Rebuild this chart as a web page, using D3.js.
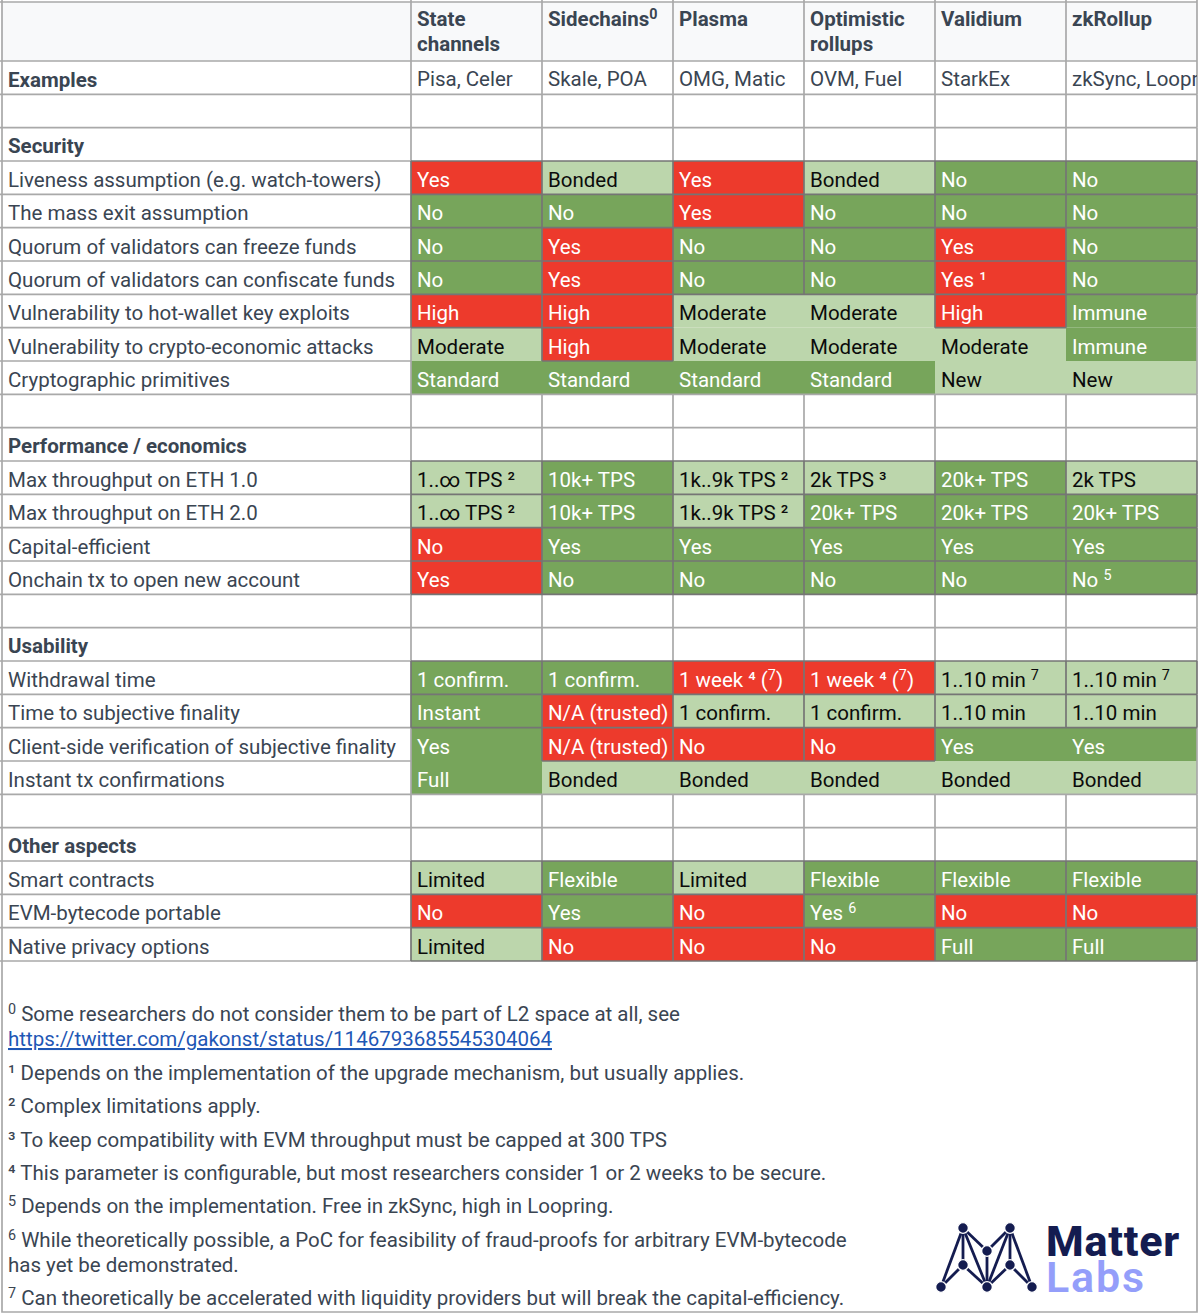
<!DOCTYPE html>
<html>
<head>
<meta charset="utf-8">
<script src="https://cdn.jsdelivr.net/npm/d3@7"></script>
<style>
  html, body { margin: 0; padding: 0; background: #fff; }
  svg { display: block; }
  text { font-family: Roboto, sans-serif; }
</style>
</head>
<body>
<svg id="chart" width="1200" height="1315"></svg>
<script>
// "^" marks a small raised digit
const columns = ["State channels", "Sidechains^0", "Plasma", "Optimistic rollups", "Validium", "zkRollup"];
const examples = ["Pisa, Celer", "Skale, POA", "OMG, Matic", "OVM, Fuel", "StarkEx", "zkSync, Loopring"];

const securityLabels = ["Liveness assumption (e.g. watch-towers)", "The mass exit assumption", "Quorum of validators can freeze funds", "Quorum of validators can confiscate funds", "Vulnerability to hot-wallet key exploits", "Vulnerability to crypto-economic attacks", "Cryptographic primitives"];
const securityValues = [
  ["Yes", "Bonded", "Yes", "Bonded", "No", "No"],
  ["No", "No", "Yes", "No", "No", "No"],
  ["No", "Yes", "No", "No", "Yes", "No"],
  ["No", "Yes", "No", "No", "Yes ¹", "No"],
  ["High", "High", "Moderate", "Moderate", "High", "Immune"],
  ["Moderate", "High", "Moderate", "Moderate", "Moderate", "Immune"],
  ["Standard", "Standard", "Standard", "Standard", "New", "New"]
];
const securityFills = ["rlrlgg", "ggrggg", "grggrg", "grggrg", "rrllrg", "lrlllg", "ggggll"];
const securityFlat = ["......", "......", "......", "......", "..xx.x", "x.xxxx", "xxxxxx"];

const performanceLabels = ["Max throughput on ETH 1.0", "Max throughput on ETH 2.0", "Capital-efficient", "Onchain tx to open new account"];
const performanceValues = [
  ["1..∞ TPS ²", "10k+ TPS", "1k..9k TPS ²", "2k TPS ³", "20k+ TPS", "2k TPS"],
  ["1..∞ TPS ²", "10k+ TPS", "1k..9k TPS ²", "20k+ TPS", "20k+ TPS", "20k+ TPS"],
  ["No", "Yes", "Yes", "Yes", "Yes", "Yes"],
  ["Yes", "No", "No", "No", "No", "No ^5"]
];
const performanceFills = ["lgllgl", "lglggg", "rggggg", "rggggg"];
const performanceFlat = ["......", "......", "......", "......"];

const usabilityLabels = ["Withdrawal time", "Time to subjective finality", "Client-side verification of subjective finality", "Instant tx confirmations"];
const usabilityValues = [
  ["1 confirm.", "1 confirm.", "1 week ⁴ (^7)", "1 week ⁴ (^7)", "1..10 min ^7", "1..10 min ^7"],
  ["Instant", "N/A (trusted)", "1 confirm.", "1 confirm.", "1..10 min", "1..10 min"],
  ["Yes", "N/A (trusted)", "No", "No", "Yes", "Yes"],
  ["Full", "Bonded", "Bonded", "Bonded", "Bonded", "Bonded"]
];
const usabilityFills = ["ggrrll", "grllll", "grrrgg", "glllll"];
const usabilityFlat = ["......", "......", "x...xx", "xxxxxx"];

const otherLabels = ["Smart contracts", "EVM-bytecode portable", "Native privacy options"];
const otherValues = [
  ["Limited", "Flexible", "Limited", "Flexible", "Flexible", "Flexible"],
  ["No", "Yes", "No", "Yes ^6", "No", "No"],
  ["Limited", "No", "No", "No", "Full", "Full"]
];
const otherFills = ["lglggg", "rgrgrr", "lrrrgg"];
const otherFlat = ["......", "......", "......"];

const footnotes = [
  "^0 Some researchers do not consider them to be part of L2 space at all, see",
  "https://twitter.com/gakonst/status/1146793685545304064",
  "¹ Depends on the implementation of the upgrade mechanism, but usually applies.",
  "² Complex limitations apply.",
  "³ To keep compatibility with EVM throughput must be capped at 300 TPS",
  "⁴ This parameter is configurable, but most researchers consider 1 or 2 weeks to be secure.",
  "^5 Depends on the implementation. Free in zkSync, high in Loopring.",
  "^6 While theoretically possible, a PoC for feasibility of fraud-proofs for arbitrary EVM-bytecode",
  "has yet be demonstrated.",
  "^7 Can theoretically be accelerated with liquidity providers but will break the capital-efficiency."
];
const footnoteBaselines = [1021, 1046, 1080, 1113, 1147, 1180, 1213, 1247, 1272, 1305];

const colours = { r: "#ed3a2c", g: "#77a55b", l: "#bcd6ac" };
const inkOn = { r: "#fff", g: "#fff", l: "#0b0b0b" };
const slate = "#3a4552";
const lineLight = "#a9a9a9";
const lineDark = "#757575";

// one row per line of the table, the header is kept apart
let rows = [];
function addBlank() { rows.push({ label: "", bold: false }); }
function addSection(title, labels, values, fills, flat) {
  rows.push({ label: title, bold: true });
  labels.forEach((l, i) => rows.push({ label: l, values: values[i], fills: fills[i], flat: flat[i] }));
}
rows.push({ label: "Examples", bold: true, values: examples });
addBlank();
addSection("Security", securityLabels, securityValues, securityFills, securityFlat);
addBlank();
addSection("Performance / economics", performanceLabels, performanceValues, performanceFills, performanceFlat);
addBlank();
addSection("Usability", usabilityLabels, usabilityValues, usabilityFills, usabilityFlat);
addBlank();
addSection("Other aspects", otherLabels, otherValues, otherFills, otherFlat);

const x = d3.scaleBand().domain(d3.range(columns.length)).range([411, 1197]);
const y = d3.scaleBand().domain(d3.range(rows.length)).range([61, 961]);

const svg = d3.select("#chart");
svg.append("defs").append("clipPath").attr("id", "table-clip")
   .append("rect").attr("x", 0).attr("y", 0).attr("width", 1197).attr("height", 961);

// writes a string into a text node, "^7" becomes a raised small 7
function writeRich(sel, str, size) {
  let back = 0;
  str.split(/(\^\d)/).filter(p => p !== "").forEach(part => {
    if (part[0] === "^") {
      sel.append("tspan").attr("dy", -size * 0.36).attr("font-size", size * 0.7).text(part[1]);
      back = size * 0.36;
    } else {
      sel.append("tspan").attr("dy", back || null).text(part);
      back = 0;
    }
  });
}

// header background
svg.append("rect").attr("x", 2).attr("y", 2).attr("width", 1195).attr("height", 59).attr("fill", "#f8f9fa");

// cell fills
let cells = [];
rows.forEach((r, ri) => {
  if (!r.fills) return;
  columns.forEach((c, ci) => cells.push({ ri: ri, ci: ci, fill: r.fills[ci], value: r.values[ci] }));
});
svg.append("g").selectAll("rect").data(cells).join("rect")
   .attr("x", d => x(d.ci))
   .attr("y", d => y(d.ri))
   .attr("width", x.bandwidth())
   .attr("height", y.bandwidth())
   .attr("fill", d => colours[d.fill]);

// grid lines: flat cells have no border between them, plain coloured cells get a darker one
function kind(ri, ci) {
  if (ri < 0 || ri >= rows.length || ci < 0 || ci >= columns.length) return "white";
  let r = rows[ri];
  if (!r.fills) return "white";
  return r.flat[ci] === "x" ? "flat" : "solid";
}
function edgeColour(a, b) {
  if (a === "flat" && b === "flat") return null;
  return (a === "solid" || b === "solid") ? lineDark : lineLight;
}
let edges = [];
// vertical ones, header included
d3.range(-1, columns.length).forEach(ci => {
  let xe = ci < 0 ? 411 : x(ci) + x.bandwidth();
  edges.push({ x1: xe, x2: xe, y1: 0, y2: 61, stroke: lineLight });
  rows.forEach((r, ri) => {
    let stroke = edgeColour(kind(ri, ci), kind(ri, ci + 1));
    if (stroke) edges.push({ x1: xe, x2: xe, y1: y(ri), y2: y(ri) + y.bandwidth(), stroke: stroke });
  });
});
// horizontal ones
d3.range(-1, columns.length).forEach(ci => {
  let x1 = ci < 0 ? 0 : x(ci);
  let x2 = ci < 0 ? 411 : x(ci) + x.bandwidth();
  edges.push({ x1: x1, x2: x2, y1: 2, y2: 2, stroke: lineLight });
  d3.range(-1, rows.length).forEach(ri => {
    let stroke = edgeColour(kind(ri, ci), kind(ri + 1, ci));
    let ye = ri < 0 ? 61 : y(ri) + y.bandwidth();
    if (stroke) edges.push({ x1: x1, x2: x2, y1: ye, y2: ye, stroke: stroke });
  });
});
edges.sort((a, b) => d3.ascending(a.stroke === lineDark, b.stroke === lineDark));
svg.append("g").selectAll("line").data(edges).join("line")
   .attr("x1", d => d.x1).attr("x2", d => d.x2)
   .attr("y1", d => d.y1).attr("y2", d => d.y2)
   .attr("stroke", d => d.stroke)
   .attr("stroke-width", 1.7);

// outer frame of the notes part
svg.append("path")
   .attr("d", "M2,0V1312H1197V961")
   .attr("fill", "none")
   .attr("stroke", lineLight)
   .attr("stroke-width", 1.7);

const fontSize = 20.5;
const textDx = 6;
const baseDy = 26;

// header labels
columns.forEach((c, ci) => {
  let words = c.split(" ");
  let lines = words.length > 1 ? words : [c];
  lines.forEach((l, li) => {
    let t = svg.append("text")
       .attr("x", x(ci) + textDx)
       .attr("y", 26 + li * 25)
       .attr("font-size", fontSize)
       .attr("font-weight", 700)
       .attr("fill", slate);
    writeRich(t, l, fontSize);
  });
});

// row labels
svg.append("g").selectAll("text").data(rows.filter(r => r.label)).join("text")
   .attr("x", 8)
   .attr("y", d => y(rows.indexOf(d)) + baseDy - (d.bold ? 0.5 : 0))
   .attr("font-size", fontSize)
   .attr("font-weight", d => d.bold ? 700 : 400)
   .attr("fill", slate)
   .text(d => d.label);

// examples row, the last one is cut at the table edge
const examplesLayer = svg.append("g").attr("clip-path", "url(#table-clip)");
examples.forEach((e, ci) => {
  examplesLayer.append("text")
     .attr("x", x(ci) + textDx)
     .attr("y", y(0) + baseDy - 1)
     .attr("font-size", fontSize)
     .attr("fill", slate)
     .text(e);
});

// cell values
svg.append("g").selectAll("text").data(cells).join("text")
   .attr("x", d => x(d.ci) + textDx)
   .attr("y", d => y(d.ri) + baseDy)
   .attr("font-size", fontSize)
   .attr("fill", d => inkOn[d.fill])
   .each(function(d) { writeRich(d3.select(this), d.value, fontSize); });

// footnotes
footnotes.forEach((f, i) => {
  let isLink = f.startsWith("https");
  let t = svg.append("text")
     .attr("x", 8)
     .attr("y", footnoteBaselines[i])
     .attr("font-size", fontSize)
     .attr("fill", isLink ? "#1f57b5" : slate)
     .attr("text-decoration", isLink ? "underline" : null);
  writeRich(t, f, fontSize);
});

// Matter Labs logo
const logoNodes = [[963, 1228], [1010, 1228], [987, 1251], [963, 1265], [1010, 1265], [941, 1287], [987, 1287], [1032, 1287]];
const logoLinks = [[0, 2], [1, 2], [0, 5], [0, 3], [0, 6], [1, 7], [1, 4], [1, 6], [2, 6], [3, 5], [3, 6], [4, 6], [4, 7]];
const logo = svg.append("g");
logo.selectAll("line").data(logoLinks).join("line")
    .attr("x1", d => logoNodes[d[0]][0]).attr("y1", d => logoNodes[d[0]][1])
    .attr("x2", d => logoNodes[d[1]][0]).attr("y2", d => logoNodes[d[1]][1])
    .attr("stroke", "#141c50").attr("stroke-width", 2.8);
logo.selectAll("circle").data(logoNodes).join("circle")
    .attr("cx", d => d[0]).attr("cy", d => d[1]).attr("r", 5.4)
    .attr("fill", "#141c50").attr("stroke", "#fff").attr("stroke-width", 1.4);
svg.append("text").attr("x", 1046).attr("y", 1256)
   .attr("font-family", "Inter").attr("font-size", 43).attr("font-weight", 800)
   .attr("letter-spacing", 0.8).attr("fill", "#141c50").text("Matter");
svg.append("text").attr("x", 1046).attr("y", 1292)
   .attr("font-family", "Inter").attr("font-size", 43).attr("font-weight", 600)
   .attr("letter-spacing", 1.8).attr("fill", "#949efa").text("Labs");
</script>
</body>
</html>
